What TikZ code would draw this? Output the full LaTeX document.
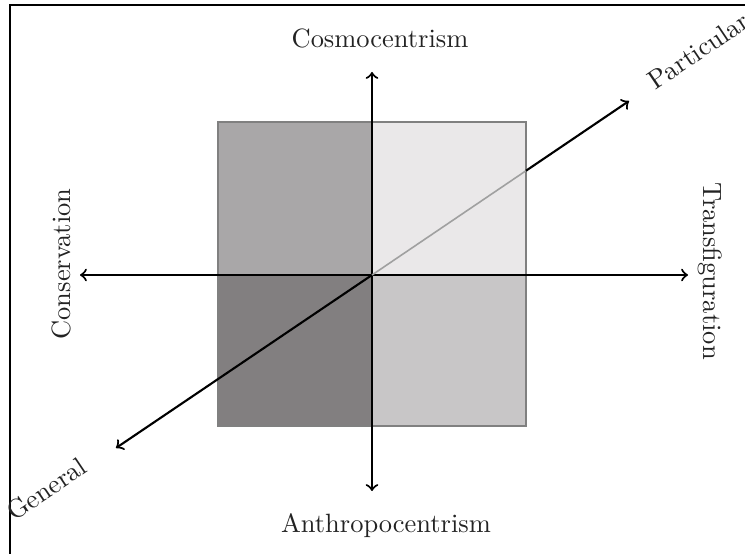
\documentclass[tikz,border=0pt]{standalone}
\usepackage{xcolor}
\usepackage{tikz}
\usetikzlibrary{calc}
\definecolor{QuadTopLeft}{RGB}{169,167,168}
\definecolor{QuadTopRight}{RGB}{234,232,233}
\definecolor{QuadBottomLeft}{RGB}{130,127,128}
\definecolor{QuadBottomRight}{RGB}{200,198,199}
\definecolor{SquareEdge}{RGB}{128,128,128}
\definecolor{DiagGrey}{RGB}{160,160,160}
\definecolor{LabelInk}{RGB}{35,35,35}

\begin{document}
\begin{tikzpicture}[x=0.378pt,y=-0.378pt,
  axis/.style={line width=0.8pt,>=to},
  label/.style={text=LabelInk,inner sep=0pt,font=\fontsize{10}{12}\selectfont}]
  \useasboundingbox (0,0) rectangle (745,554);
  \clip (0,0) rectangle (745,554);
  \draw[line width=0.9pt] (10,560) -- (10,5) -- (750,5);

  \fill[QuadTopLeft] (218,122) rectangle (372,275);
  \fill[QuadTopRight] (372,122) rectangle (526,275);
  \fill[QuadBottomLeft] (218,275) rectangle (372,426);
  \fill[QuadBottomRight] (372,275) rectangle (526,426);
  \draw[SquareEdge,line width=0.6pt] (218,122) rectangle (526,426);

  \coordinate (o) at (372,275);
  \coordinate (north) at (372,72);
  \coordinate (south) at (372,491);
  \coordinate (west) at (80,275);
  \coordinate (east) at (688,275);
  \coordinate (gen) at (116,448);
  \coordinate (par) at (629,101);
  \coordinate (cross) at ($(o)!0.599!(par)$);

  \draw[axis,<->] (south) -- (north);
  \draw[axis,<->] (west) -- (east);
  \draw[axis,->] (o) -- (gen);
  \draw[DiagGrey,line width=0.6pt] (o) -- (cross);
  \draw[axis,->] (cross) -- (par);

  \node[label,anchor=base] (cosmo) at (380,48) {Cosmocentrism};
  \node[label,anchor=base] (anthro) at (386,532) {Anthropocentrism};
  \node[label,anchor=base,rotate=90] (conserv) at (70,264) {Conservation};
  \node[label,anchor=base,rotate=-90] (transfig) at (703,271) {Transfiguration};
  \node[label,anchor=base west,rotate=34] (partic) at (655,91) {Particular};
  \node[label,anchor=base west,rotate=34] (general) at (14,522) {General};
\end{tikzpicture}
\end{document}
